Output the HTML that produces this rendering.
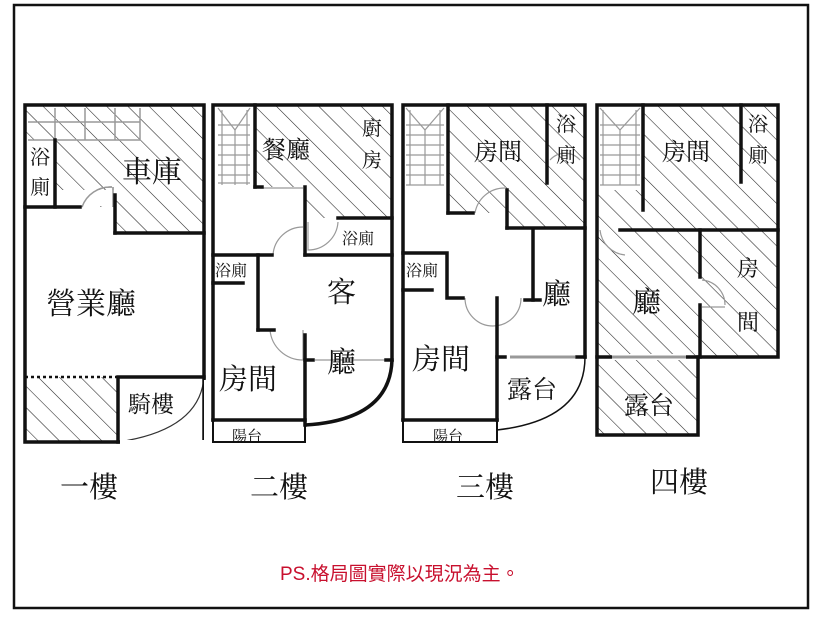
<!DOCTYPE html>
<html><head><meta charset="utf-8"><style>
html,body{margin:0;padding:0;background:#fff;}
svg{display:block;}
text{font-family:"Liberation Serif","Noto Serif CJK SC","Noto Serif CJK TC",serif;fill:#111;}
</style></head><body>
<svg width="814" height="619" viewBox="0 0 814 619" xmlns="http://www.w3.org/2000/svg">
<defs>
<pattern id="h" patternUnits="userSpaceOnUse" width="15" height="15" patternTransform="rotate(-45)">
<line x1="0" y1="0" x2="0" y2="15" stroke="#222" stroke-width="1.1"/>
</pattern>
</defs>
<rect x="0" y="0" width="814" height="619" fill="#fff"/>
<rect x="14" y="5" width="794" height="603" fill="none" stroke="#111" stroke-width="2.5"/>

<!-- ===== Plan 1 ===== -->
<path d="M25 105 H204 V233 H115 V207 H55 V140 H25 Z" fill="url(#h)"/>
<rect x="25" y="377" width="93" height="65" fill="url(#h)"/>
<g stroke="#999" stroke-width="1.5" fill="none">
<line x1="28" y1="122" x2="140" y2="122"/><line x1="28" y1="140" x2="140" y2="140"/>
<line x1="55" y1="108" x2="55" y2="140"/><line x1="85" y1="108" x2="85" y2="140"/><line x1="115" y1="108" x2="115" y2="140"/><line x1="140" y1="108" x2="140" y2="140"/>
<path d="M82 207 A30 30 0 0 1 112 187"/><line x1="113" y1="187" x2="113" y2="207"/>
</g>
<rect x="56" y="190" width="58" height="16" fill="#fff"/>
<g stroke="#999" stroke-width="1.5" fill="none"><path d="M82 207 A30 30 0 0 1 112 187"/><line x1="113" y1="187" x2="113" y2="207"/></g>
<path d="M204 377 Q200 430 118 442" fill="none" stroke="#333" stroke-width="1.2"/>
<line x1="25" y1="377" x2="118" y2="377" stroke="#111" stroke-width="2.5" stroke-dasharray="3,3"/>
<g stroke="#111" stroke-width="3.5" fill="none" stroke-linecap="square">
<rect x="25" y="105" width="179" height="337"/>
<line x1="55" y1="140" x2="55" y2="207"/><line x1="25" y1="207" x2="80" y2="207"/>
<line x1="115" y1="195" x2="115" y2="233"/><line x1="115" y1="233" x2="204" y2="233"/>
<polyline points="204,377 118,377 118,442"/>
</g>
<rect x="204" y="380" width="3" height="64" fill="#fff"/>
<rect x="120" y="440" width="84" height="5" fill="#fff"/>
<text x="30" y="164" font-size="20">浴</text><text x="30" y="194" font-size="20">廁</text>
<text x="122" y="182" font-size="30">車庫</text>
<text x="46" y="314" font-size="30">營業廳</text>
<text x="128" y="412" font-size="23">騎樓</text>
<text x="60" y="497" font-size="29">一樓</text>

<!-- ===== Plan 2 ===== -->
<path d="M255 105 H392 V218 H338 V218 H305 V187 H255 Z" fill="url(#h)"/>
<g stroke="#999" stroke-width="1.2" fill="none">
<line x1="222" y1="110" x2="222" y2="185"/><line x1="247" y1="110" x2="247" y2="185"/><line x1="235" y1="130" x2="235" y2="185"/>
<path d="M218 125 H250 M218 135 H250 M218 145 H250 M218 155 H250 M218 165 H250 M218 175 H250 M218 183 H250"/>
<line x1="218" y1="108" x2="235" y2="130"/><line x1="250" y1="108" x2="235" y2="130"/>
<path d="M273 255 A30 30 0 0 1 303 227"/>
<path d="M308 222 V250 A30 30 0 0 0 338 222"/>
<path d="M270 330 A33 33 0 0 0 303 360"/><line x1="303" y1="330" x2="303" y2="360"/>
<line x1="315" y1="360" x2="385" y2="360"/>
<line x1="260" y1="188" x2="303" y2="188"/>
</g>
<g stroke="#111" stroke-width="3.5" fill="none" stroke-linecap="square">
<polyline points="213,420 213,105 392,105 392,360"/>
<line x1="255" y1="105" x2="255" y2="187"/><line x1="255" y1="187" x2="262" y2="187"/>
<line x1="305" y1="187" x2="305" y2="255"/>
<line x1="338" y1="218" x2="392" y2="218"/>
<line x1="213" y1="255" x2="272" y2="255"/><line x1="305" y1="255" x2="392" y2="255"/>
<line x1="258" y1="255" x2="258" y2="330"/><line x1="258" y1="330" x2="274" y2="330"/>
<line x1="213" y1="283" x2="243" y2="283"/>
<line x1="305" y1="335" x2="305" y2="425"/><line x1="305" y1="360" x2="313" y2="360"/><line x1="386" y1="360" x2="392" y2="360"/>
<line x1="213" y1="420" x2="305" y2="420"/>
</g>
<path d="M392 360 Q390 420 305 425" fill="none" stroke="#111" stroke-width="3.5"/>
<rect x="213" y="420" width="92" height="22" fill="none" stroke="#111" stroke-width="2"/>
<text x="262" y="158" font-size="24">餐廳</text>
<text x="362" y="135" font-size="20">廚</text><text x="362" y="167" font-size="20">房</text>
<text x="342" y="244" font-size="16">浴廁</text>
<text x="215" y="276" font-size="16">浴廁</text>
<text x="327" y="302" font-size="29">客</text><text x="327" y="372" font-size="29">廳</text>
<text x="219" y="389" font-size="29">房間</text>
<text x="232" y="441" font-size="15">陽台</text>
<text x="250" y="497" font-size="29">二樓</text>

<!-- ===== Plan 3 ===== -->
<path d="M448 105 H585 V228 H507 V213 H448 Z" fill="url(#h)"/>
<g stroke="#999" stroke-width="1.2" fill="none">
<line x1="410" y1="110" x2="410" y2="185"/><line x1="440" y1="110" x2="440" y2="185"/><line x1="425" y1="130" x2="425" y2="185"/>
<path d="M406 125 H444 M406 135 H444 M406 145 H444 M406 155 H444 M406 165 H444 M406 175 H444 M406 185 H444"/>
<line x1="406" y1="108" x2="425" y2="130"/><line x1="444" y1="108" x2="425" y2="130"/>
<path d="M475 213 A30 30 0 0 1 505 188"/>
<path d="M465 298 A28 28 0 0 0 521 298"/><line x1="497" y1="298" x2="497" y2="325"/>
<path d="M550 160 A20 20 0 0 1 580 160"/>
<line x1="510" y1="357" x2="575" y2="357" stroke-width="3"/>
</g>
<g stroke="#111" stroke-width="3.5" fill="none" stroke-linecap="square">
<polyline points="403,420 403,105 585,105 585,357"/>
<line x1="448" y1="105" x2="448" y2="213"/><line x1="448" y1="213" x2="473" y2="213"/>
<line x1="547" y1="105" x2="547" y2="183"/>
<line x1="507" y1="190" x2="507" y2="228"/><line x1="507" y1="228" x2="585" y2="228"/>
<line x1="533" y1="230" x2="533" y2="300"/><line x1="525" y1="300" x2="540" y2="300"/>
<polyline points="403,253 447,253 447,298 463,298"/>
<line x1="403" y1="290" x2="432" y2="290"/>
<line x1="497" y1="298" x2="497" y2="420"/>
<line x1="403" y1="420" x2="497" y2="420"/>
<line x1="497" y1="357" x2="505" y2="357"/><line x1="577" y1="357" x2="585" y2="357"/>
</g>
<path d="M585 357 Q585 420 497 430" fill="none" stroke="#111" stroke-width="1.5"/>
<rect x="403" y="420" width="94" height="22" fill="none" stroke="#111" stroke-width="2"/>
<text x="474" y="160" font-size="24">房間</text>
<text x="556" y="131" font-size="20">浴</text><text x="556" y="162" font-size="20">廁</text>
<text x="406" y="276" font-size="16">浴廁</text>
<text x="542" y="304" font-size="29">廳</text>
<text x="412" y="369" font-size="29">房間</text>
<text x="507" y="398" font-size="25">露台</text>
<text x="433" y="441" font-size="15">陽台</text>
<text x="456" y="497" font-size="29">三樓</text>

<!-- ===== Plan 4 ===== -->
<rect x="597" y="105" width="181" height="252" fill="url(#h)"/>
<rect x="597" y="357" width="101" height="78" fill="url(#h)"/>
<rect x="598" y="106" width="44" height="84" fill="#fff"/>
<g stroke="#999" stroke-width="1.2" fill="none">
<line x1="603" y1="110" x2="603" y2="185"/><line x1="636" y1="110" x2="636" y2="185"/><line x1="620" y1="130" x2="620" y2="185"/>
<path d="M600 125 H640 M600 135 H640 M600 145 H640 M600 155 H640 M600 165 H640 M600 175 H640 M600 185 H640"/>
<line x1="600" y1="108" x2="620" y2="130"/><line x1="640" y1="108" x2="620" y2="130"/>
<path d="M600 230 A28 28 0 0 0 625 255"/>
<path d="M702 280 A25 25 0 0 1 725 305"/><line x1="702" y1="307" x2="725" y2="307"/>
</g>
<g stroke="#111" stroke-width="3.5" fill="none" stroke-linecap="square">
<rect x="597" y="105" width="181" height="252"/>
<line x1="643" y1="105" x2="643" y2="210"/>
<line x1="741" y1="105" x2="741" y2="182"/>
<line x1="620" y1="230" x2="778" y2="230"/>
<line x1="700" y1="230" x2="700" y2="277"/><line x1="700" y1="305" x2="700" y2="357"/>
<polyline points="597,357 597,435 698,435 698,357"/>
</g>
<rect x="612" y="354" width="74" height="6" fill="#fff"/>
<line x1="612" y1="357" x2="686" y2="357" stroke="#999" stroke-width="3"/>
<text x="662" y="160" font-size="24">房間</text>
<text x="748" y="131" font-size="20">浴</text><text x="748" y="162" font-size="20">廁</text>
<text x="632" y="312" font-size="29">廳</text>
<text x="737" y="276" font-size="22">房</text><text x="737" y="330" font-size="22">間</text>
<text x="624" y="414" font-size="25">露台</text>
<text x="650" y="492" font-size="29">四樓</text>

<text x="280" y="580" font-size="19" style="fill:#c8102e;font-family:'Liberation Sans','Noto Sans CJK TC',sans-serif">PS.格局圖實際以現況為主。</text>
</svg>
</body></html>
